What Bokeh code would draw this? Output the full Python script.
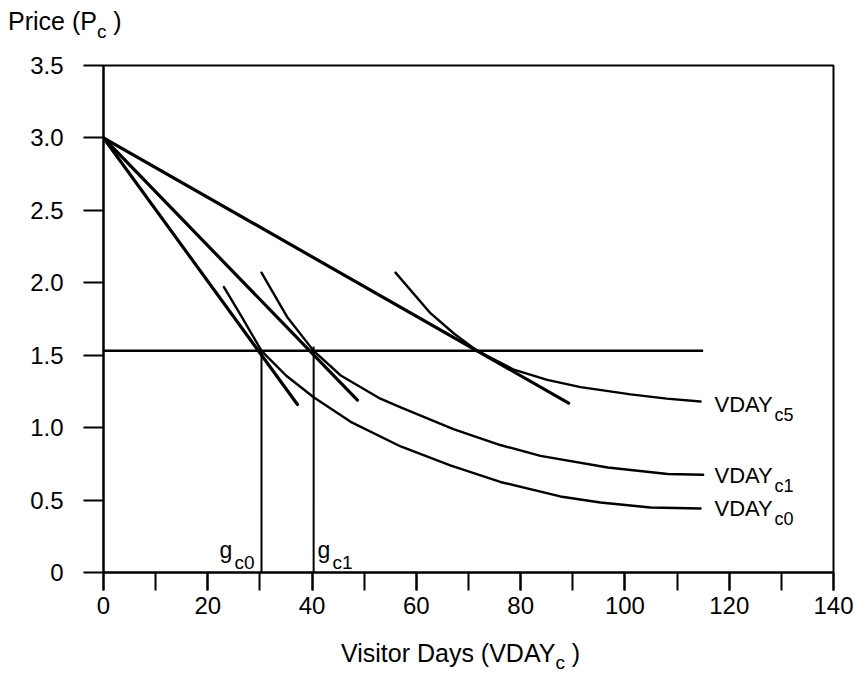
from bokeh.plotting import figure
from bokeh.layouts import column
from bokeh.models import Range1d, FixedTicker, SingleIntervalTicker, Label, CustomJSTickFormatter, Div
from bokeh.embed import file_html
from bokeh.resources import INLINE

# ---- data ----
price_level = 1.53
price_line_x = [0.0, 115.0]

line_a_x = [0.0, 89.2]
line_a_y = [3.0, 1.17]
line_b_x = [0.0, 48.7]
line_b_y = [3.0, 1.19]
line_c_x = [0.0, 37.2]
line_c_y = [3.0, 1.16]

vday_c5_x = [56.0, 62.7, 67.2, 71.7, 78.7, 85.1, 91.5, 101.1, 108.0, 114.5]
vday_c5_y = [2.07, 1.79, 1.65, 1.53, 1.40, 1.33, 1.28, 1.23, 1.20, 1.18]

vday_c1_x = [30.3, 35.3, 40.3, 45.5, 53.1, 57.0, 67.1, 76.1, 83.8, 96.7, 108.2, 115.0]
vday_c1_y = [2.07, 1.76, 1.53, 1.36, 1.20, 1.14, 0.99, 0.88, 0.805, 0.725, 0.68, 0.675]

vday_c0_x = [23.1, 26.6, 30.3, 35.0, 40.3, 47.4, 57.0, 66.5, 76.1, 87.6, 95.3, 104.9, 114.5]
vday_c0_y = [1.97, 1.76, 1.53, 1.36, 1.21, 1.04, 0.87, 0.74, 0.625, 0.525, 0.483, 0.449, 0.442]

g_c0 = 30.3
g_c1 = 40.3

y_ticks = [0, 0.5, 1.0, 1.5, 2.0, 2.5, 3.0, 3.5]

FONT = "Liberation Sans"

# ---- layout constants (pixels) ----
W = 866
HEAD_H = 43
FOOT_H = 47
MAIN_H = 673 - HEAD_H - FOOT_H
FL, FW, FH = 103, 730, 507
FT_PAGE = 65
FT = FT_PAGE - HEAD_H
X0, X1, Y0, Y1 = 0, 140, 0, 3.5


def dx(px):
    return X0 + (px - FL) * (X1 - X0) / FW


def dy(py):
    return Y0 + (FT_PAGE + FH - py) * (Y1 - Y0) / FH


def title_div(h, left, top, size, main, sub, sub_size, sub_drop):
    html = (
        f'<div style="position:relative;width:{W}px;height:{h}px;">'
        f'<span style="position:absolute;left:{left}px;top:{top}px;white-space:nowrap;'
        f'font-family:\'{FONT}\';font-size:{size}px;line-height:{size}px;color:black;">'
        f'{main}<span style="font-size:{sub_size}px;line-height:0;vertical-align:-{sub_drop}px;">{sub}</span> )'
        f'</span></div>'
    )
    return Div(text=html, width=W, height=h, margin=(0, 0, 0, 0))


head = title_div(HEAD_H, 8, 9, 25, "Price (P", "c", 19, 8)
foot = title_div(FOOT_H, 341, 15, 25, "Visitor Days (VDAY", "c", 19, 7)

# ---- main chart ----
p = figure(frame_width=FW, frame_height=FH,
           x_range=Range1d(X0, X1), y_range=Range1d(Y0, Y1),
           output_backend="svg", toolbar_location=None,
           min_border_left=FL, min_border_right=W - FL - FW,
           min_border_top=FT, min_border_bottom=MAIN_H - FT - FH)
p.grid.visible = False
p.background_fill_color = "white"
p.border_fill_color = "white"
p.outline_line_color = "black"
p.outline_line_width = 2

xa = p.xaxis[0]
xa.ticker = SingleIntervalTicker(interval=20, num_minor_ticks=2)
xa.major_tick_out = 18
xa.major_tick_in = 0
xa.minor_tick_out = 18
xa.minor_tick_in = 0
xa.minor_tick_line_color = "black"
xa.minor_tick_line_width = 2
xa.major_tick_line_width = 2
xa.major_tick_line_color = "black"
xa.axis_line_width = 2
xa.axis_line_color = "black"
xa.major_label_standoff = 6
xa.major_label_text_font = FONT
xa.major_label_text_font_size = "24px"
xa.major_label_text_color = "black"

ya = p.yaxis[0]
ya.ticker = FixedTicker(ticks=y_ticks)
ya.formatter = CustomJSTickFormatter(code="return tick == 0 ? '0' : tick.toFixed(1);")
ya.major_tick_out = 20
ya.major_tick_in = 0
ya.minor_tick_out = 0
ya.minor_tick_in = 0
ya.major_tick_line_width = 2
ya.major_tick_line_color = "black"
ya.axis_line_width = 2
ya.axis_line_color = "black"
ya.major_label_standoff = 20
ya.major_label_text_font = FONT
ya.major_label_text_font_size = "24px"
ya.major_label_text_color = "black"

p.line(price_line_x, [price_level, price_level], line_color="black", line_width=2.5)
p.line([g_c0, g_c0], [0, price_level], line_color="black", line_width=2)
p.line([g_c1, g_c1], [0, price_level + 0.03], line_color="black", line_width=2)

for xs, ys in [(line_a_x, line_a_y), (line_b_x, line_b_y), (line_c_x, line_c_y)]:
    p.line(xs, ys, line_color="black", line_width=3.2, line_cap="round", line_join="round")

for xs, ys in [(vday_c5_x, vday_c5_y), (vday_c1_x, vday_c1_y), (vday_c0_x, vday_c0_y)]:
    p.line(xs, ys, line_color="black", line_width=2.4, line_cap="round", line_join="round")


def txt(fig, x, y, s, size):
    fig.add_layout(Label(x=x, y=y, text=s, text_font=FONT,
                         text_font_size=f"{size}px", text_color="black",
                         text_baseline="middle", text_align="left"))


txt(p, dx(219), dy(549), "g", 23)
txt(p, dx(234), dy(562), "c0", 19)
txt(p, dx(317), dy(549), "g", 23)
txt(p, dx(332), dy(562), "c1", 19)

for mid, sub in [(404, "c5"), (475, "c1"), (508, "c0")]:
    txt(p, dx(714), dy(mid), "VDAY", 22)
    txt(p, dx(774), dy(mid + 10), sub, 18)

layout = column(head, p, foot, spacing=0)
open("out.html", "w").write(file_html(layout, INLINE))
